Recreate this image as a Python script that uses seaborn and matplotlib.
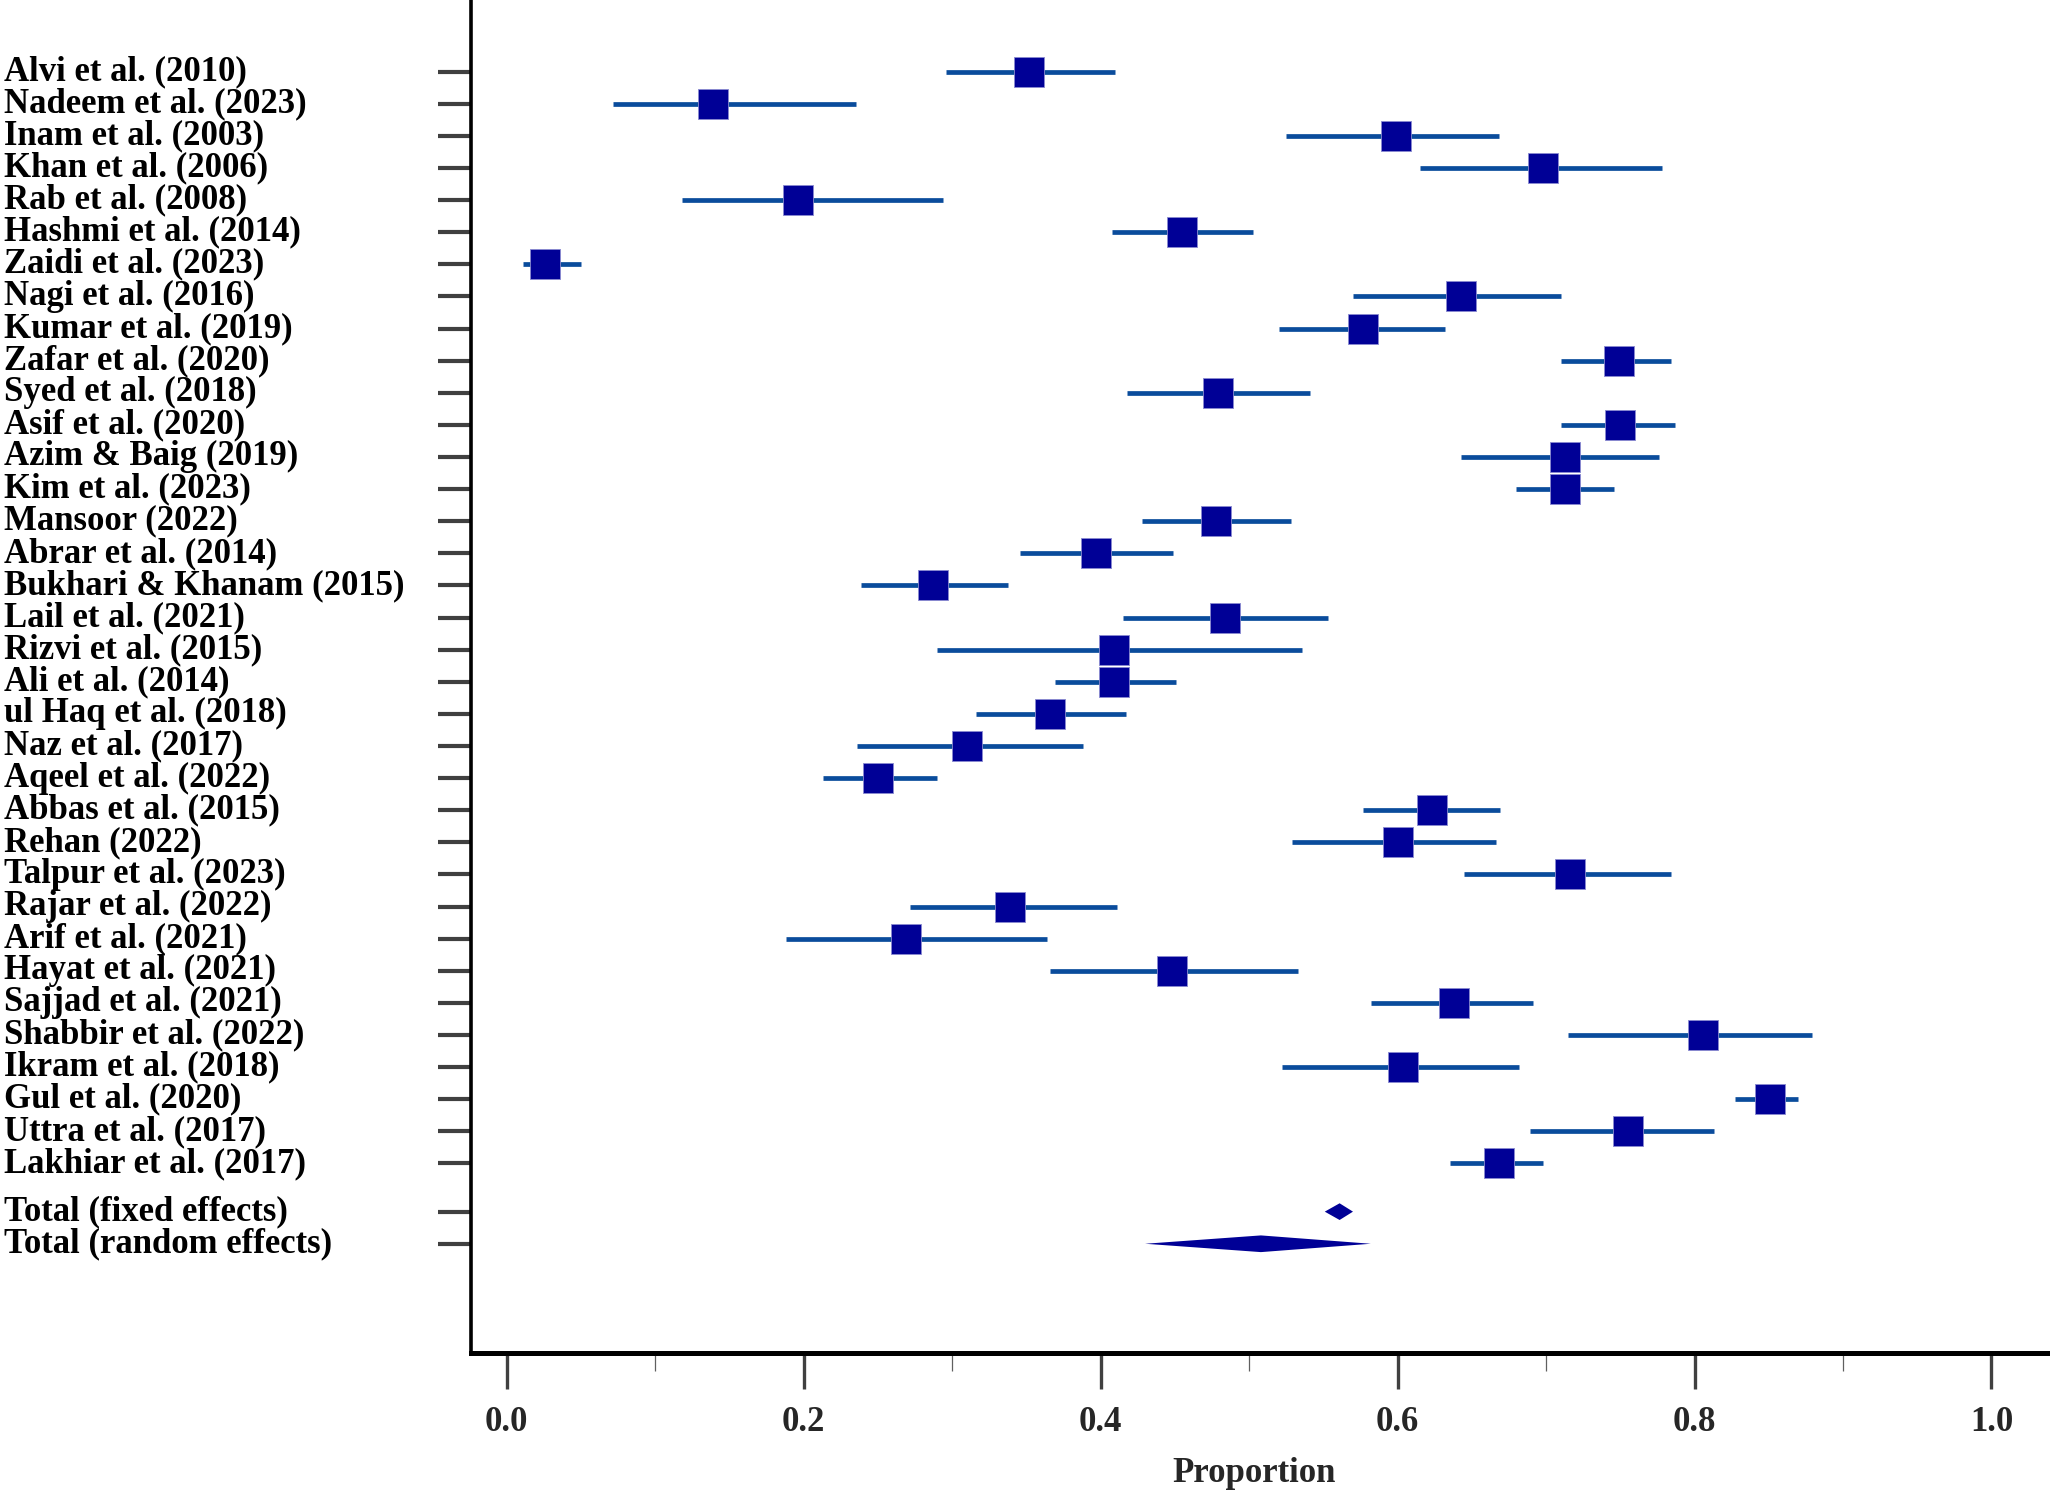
import numpy as np
import pandas as pd
import matplotlib
matplotlib.use("Agg")
import matplotlib.pyplot as plt
import matplotlib.transforms as mtransforms
from matplotlib.ticker import MultipleLocator
import seaborn as sns

# Studies, point estimates and 95% CI
studies = [
    "Alvi et al. (2010)", "Nadeem et al. (2023)", "Inam et al. (2003)",
    "Khan et al. (2006)", "Rab et al. (2008)", "Hashmi et al. (2014)",
    "Zaidi et al. (2023)", "Nagi et al. (2016)", "Kumar et al. (2019)",
    "Zafar et al. (2020)", "Syed et al. (2018)", "Asif et al. (2020)",
    "Azim & Baig (2019)", "Kim et al. (2023)", "Mansoor (2022)",
    "Abrar et al. (2014)", "Bukhari & Khanam (2015)", "Lail et al. (2021)",
    "Rizvi et al. (2015)", "Ali et al. (2014)", "ul Haq et al. (2018)",
    "Naz et al. (2017)", "Aqeel et al. (2022)", "Abbas et al. (2015)",
    "Rehan (2022)", "Talpur et al. (2023)", "Rajar et al. (2022)",
    "Arif et al. (2021)", "Hayat et al. (2021)", "Sajjad et al. (2021)",
    "Shabbir et al. (2022)", "Ikram et al. (2018)", "Gul et al. (2020)",
    "Uttra et al. (2017)", "Lakhiar et al. (2017)",
]
proportion = [0.352, 0.139, 0.599, 0.698, 0.196, 0.455, 0.026, 0.643, 0.577,
              0.749, 0.479, 0.750, 0.713, 0.713, 0.478, 0.397, 0.287, 0.484,
              0.409, 0.409, 0.366, 0.310, 0.250, 0.623, 0.600, 0.716, 0.339,
              0.269, 0.448, 0.638, 0.806, 0.604, 0.851, 0.755, 0.668]
ci_low = [0.296, 0.072, 0.525, 0.615, 0.118, 0.408, 0.011, 0.570, 0.520,
          0.710, 0.418, 0.710, 0.643, 0.680, 0.428, 0.346, 0.239, 0.415,
          0.290, 0.369, 0.316, 0.236, 0.213, 0.577, 0.529, 0.645, 0.272,
          0.188, 0.366, 0.582, 0.715, 0.522, 0.827, 0.689, 0.635]
ci_high = [0.410, 0.235, 0.668, 0.778, 0.294, 0.503, 0.050, 0.710, 0.632,
           0.784, 0.541, 0.787, 0.776, 0.746, 0.528, 0.449, 0.338, 0.553,
           0.536, 0.451, 0.417, 0.388, 0.290, 0.669, 0.666, 0.784, 0.411,
           0.364, 0.533, 0.691, 0.879, 0.682, 0.870, 0.813, 0.698]

pooled_labels = ["Total (fixed effects)", "Total (random effects)"]
pooled_est = [0.561, 0.508]
pooled_low = [0.551, 0.430]
pooled_high = [0.570, 0.582]

df = pd.DataFrame({"study": studies, "p": proportion,
                   "lo": ci_low, "hi": ci_high})
df["row"] = np.arange(len(df))
pooled_rows = [len(df) + 0.5, len(df) + 1.5]

sns.set_theme(style="white")
plt.rcParams["font.family"] = ["Liberation Serif", "DejaVu Serif"]
plt.rcParams["font.weight"] = "bold"

fig = plt.figure(figsize=(20.5, 14.92), dpi=100)
ax = fig.add_axes([0.2298, 0.0932, 0.7702, 0.9068])

line_col = "#0a4c9c"
box_col = "#000096"

ax.hlines(df["row"], df["lo"], df["hi"], color=line_col, lw=3.4, zorder=2)
sns.scatterplot(data=df, x="p", y="row", marker="s", s=450, color=box_col,
                edgecolor="#8a8ad0", linewidth=0.6, zorder=3, ax=ax, legend=False)

# pooled diamonds
for r, est, lo, hi in zip(pooled_rows, pooled_est, pooled_low, pooled_high):
    ax.fill([lo, est, hi, est], [r, r - 0.26, r, r + 0.26],
            color=box_col, lw=0, zorder=3)

ax.set_xlim(-0.0239, 1.0394)
ax.set_ylim(39.9, -2.23)

all_labels = studies + pooled_labels
all_rows = list(df["row"]) + pooled_rows
ax.set_yticks(all_rows)
ax.set_yticklabels([])
trans = mtransforms.blended_transform_factory(fig.transFigure, ax.transData)
for lab, r in zip(all_labels, all_rows):
    ax.text(0.002, r, lab, transform=trans, ha="left", va="center",
            fontsize=25, fontweight="bold", color="black")

ax.xaxis.set_major_locator(MultipleLocator(0.2))
ax.xaxis.set_minor_locator(MultipleLocator(0.1))
ax.set_xticklabels([f"{v:.1f}" for v in ax.get_xticks()])
ax.tick_params(axis="x", which="major", direction="out", length=26, width=2.4,
               color="#404040", labelsize=25, pad=12, bottom=True)
ax.tick_params(axis="x", which="minor", direction="out", length=13, width=0.9,
               color="#606060", bottom=True)
ax.tick_params(axis="y", which="major", direction="out", length=24, width=3,
               color="#404040", left=True)
for lab in ax.get_xticklabels():
    lab.set_fontweight("bold")

ax.set_xlabel("Proportion", fontsize=25, fontweight="bold")
ax.xaxis.set_label_coords(0.496, -0.077)
ax.set_ylabel("")

sns.despine(ax=ax, top=True, right=True)
ax.spines["left"].set_linewidth(2.6)
ax.spines["left"].set_color("black")
ax.spines["bottom"].set_linewidth(3.6)
ax.spines["bottom"].set_color("black")
ax.grid(False)

fig.savefig("out.png", dpi=100)
